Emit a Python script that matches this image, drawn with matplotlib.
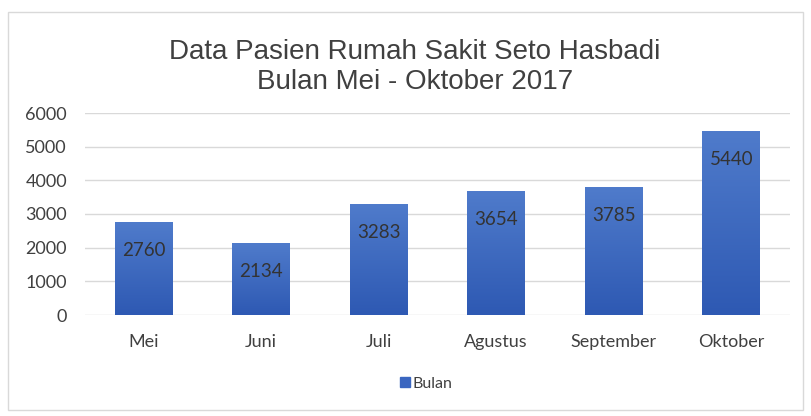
import numpy as np
from matplotlib import pyplot as plt
from matplotlib.patches import Rectangle
from matplotlib.colors import LinearSegmentedColormap

bulan = ['Mei', 'Juni', 'Juli', 'Agustus', 'September', 'Oktober']
pasien = [2760, 2134, 3283, 3654, 3785, 5440]

fig = plt.figure(figsize=(8.12, 4.16), dpi=100)
ax = fig.add_axes([85 / 812, 101 / 416, 705 / 812, 202 / 416])

bars = ax.bar(bulan, pasien, width=0.49, color='#3a66c0', zorder=2, label='Bulan')

# gradient fill for each bar
grad = np.linspace(0, 1, 100).reshape(-1, 1)
cmap = LinearSegmentedColormap.from_list('g', ['#2e59b3', '#4f7bcb'])
for b in bars:
    x0, y0 = b.get_x(), b.get_y()
    ax.imshow(grad, extent=[x0, x0 + b.get_width(), y0, y0 + b.get_height()],
              origin='lower', cmap=cmap, aspect='auto', zorder=2.5)
    b.set_facecolor('none')

for b, v in zip(bars, pasien):
    ax.text(b.get_x() + b.get_width() / 2, v - 830, str(v), ha='center', va='center',
            fontsize=13.5, color='#333333', family='Lato', zorder=3)

ax.set_xlim(-0.5, 5.5)
ax.set_ylim(0, 6000)
ax.set_yticks(range(0, 6001, 1000))
ax.grid(axis='y', color='#d9d9d9', linewidth=1, zorder=0)
for s in ax.spines.values():
    s.set_visible(False)
ax.tick_params(length=0, labelsize=13, labelcolor='#404040')
ax.tick_params(axis='y', pad=13)
ax.tick_params(axis='x', pad=14)
for t in ax.get_xticklabels() + ax.get_yticklabels():
    t.set_family('Lato')

fig.text(0.511, 0.838, 'Data Pasien Rumah Sakit Seto Hasbadi\nBulan Mei - Oktober 2017',
         ha='center', va='center', fontsize=20, color='#404040',
         family='Liberation Sans', linespacing=1.2)

leg = fig.legend(handles=[Rectangle((0, 0), 1, 1, color='#3a66c0')], labels=['Bulan'],
                 loc='center', bbox_to_anchor=(0.525, 0.078), frameon=False,
                 handlelength=0.6, handleheight=0.6, handletextpad=0.2,
                 prop={'family': 'Lato', 'size': 11.5})
for t in leg.get_texts():
    t.set_color('#404040')

fig.patches.append(Rectangle((8 / 812, 6 / 416), 795 / 812, 398 / 416, transform=fig.transFigure,
                             fill=False, edgecolor='#d9d9d9', linewidth=1))

plt.savefig('out.png', dpi=100)
